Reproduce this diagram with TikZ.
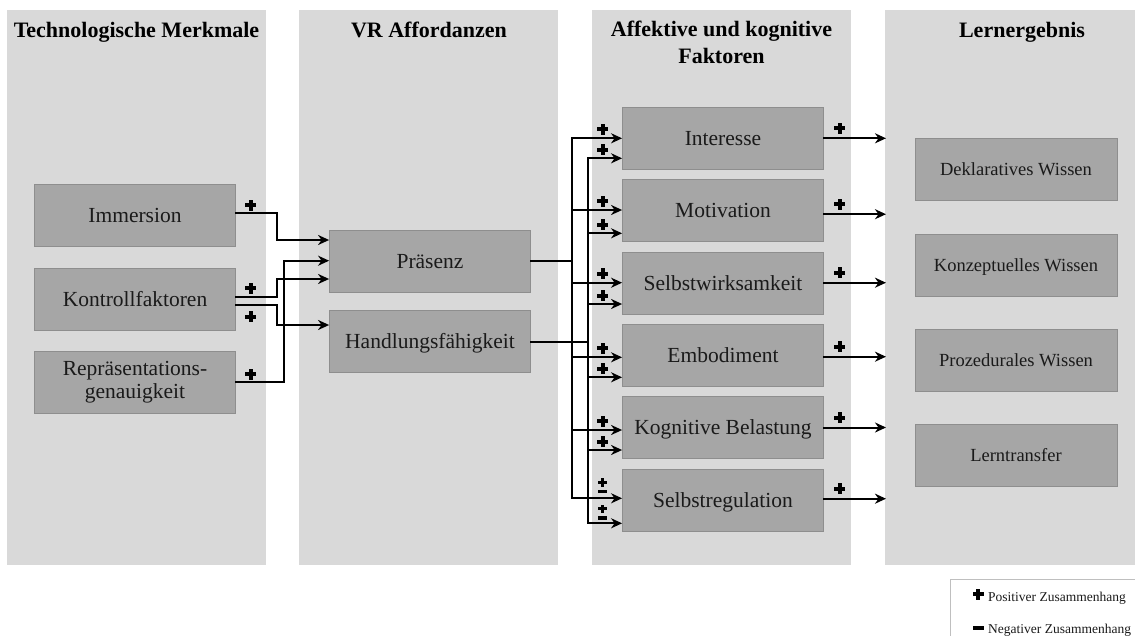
\documentclass[tikz,border=0pt]{standalone}
\usepackage{fontspec}
\setmainfont{Liberation Serif}
\usetikzlibrary{arrows.meta}
\definecolor{colbg}{HTML}{D9D9D9}
\definecolor{boxfill}{HTML}{A6A6A6}
\definecolor{boxline}{HTML}{8E8E8E}
\definecolor{ink}{HTML}{1A1A1A}
\definecolor{legline}{HTML}{BFBFBF}

\begin{document}
\begin{tikzpicture}[x=1pt,y=-1pt,
  panel/.style={fill=colbg,draw=none},
  head/.style={font=\bfseries\fontsize{22}{27}\selectfont,text=black,inner sep=0pt},
  box/.style={draw=boxline,line width=0.8pt,fill=boxfill,minimum width=201pt,
    minimum height=62pt,inner sep=0pt,align=center,text=ink,
    font=\fontsize{21.5}{23}\selectfont},
  oneline/.style={text height=14.2pt,text depth=0pt},
  outbox/.style={box,oneline,minimum width=202pt,text height=12.2pt,
    font=\fontsize{18.5}{21}\selectfont},
  legtext/.style={font=\fontsize{13.5}{16}\selectfont,text=ink,inner sep=0pt,anchor=base west},
  wire/.style={line width=2pt,black,line cap=rect},
  arr/.style={wire,-{Stealth[length=11pt,width=10pt,inset=3.5pt]}},
  pics/pos/.style={code={
    \fill[black] (-5.5,-2) rectangle (5.5,2);
    \fill[black] (-2,-5.5) rectangle (2,5.5);}},
  pics/neg/.style={code={\fill[black] (-5.5,-2) rectangle (5.5,2);}},
  pics/posneg/.style={code={
    \fill[black] (-4.3,-10.6) rectangle (4.3,-7.4);
    \fill[black] (-1.6,-13.3) rectangle (1.6,-4.7);
    \fill[black] (-4.3,-1.8) rectangle (4.3,1.8);}},
]
\useasboundingbox (0,0) rectangle (1135,635);
\fill[white] (0,0) rectangle (1135,635);

% column panels
\fill[panel] (7,10) rectangle (266,565);
\fill[panel] (299,10) rectangle (558,565);
\fill[panel] (592,10) rectangle (851,565);
\fill[panel] (885,10) rectangle (1140,565);

% column headings
\node[head,anchor=base] (h1) at (136.5,37) {Technologische Merkmale};
\node[head,anchor=base] (h2) at (429,37) {VR Affordanzen};
\node[head,anchor=north,align=center] (h3) at (721.5,21) {Affektive und kognitive\\Faktoren};
\node[head,anchor=base] (h4) at (1022,37) {Lernergebnis};

% technological features
\node[box,oneline] (imm) at (135,215.5) {Immersion};
\node[box,oneline] (kon) at (135,299.3) {Kontrollfaktoren};
\node[box] (rep) at (135,382.3) {Repräsentations-\\genauigkeit};

% affordances
\node[box,oneline] (pra) at (430,261) {Präsenz};
\node[box,oneline] (han) at (430,341.5) {Handlungsfähigkeit};

% affective and cognitive factors
\node[box,oneline] (int) at (723,138.7) {Interesse};
\node[box,oneline] (mot) at (723,210.7) {Motivation};
\node[box,oneline] (swk) at (723,283) {Selbstwirksamkeit};
\node[box,oneline] (emb) at (723,355.2) {Embodiment};
\node[box,oneline] (kog) at (723,427.5) {Kognitive Belastung};
\node[box,oneline] (sre) at (723,500) {Selbstregulation};

% learning outcomes
\node[outbox] (dek) at (1016,169.7) {Deklaratives Wissen};
\node[outbox] (kzw) at (1016,265) {Konzeptuelles Wissen};
\node[outbox] (pzw) at (1016,360) {Prozedurales Wissen};
\node[outbox] (ltr) at (1016,455) {Lerntransfer};

% routing helpers
\coordinate (bendA) at (276.7,0);
\coordinate (bendB) at (283.5,0);
\coordinate (trunkA) at (572.3,0);
\coordinate (trunkB) at (587.7,0);
\coordinate (outX) at (886,0);

\coordinate (imm-o) at ([yshift=2.2pt]imm.east);
\coordinate (kon-o1) at ([yshift=2pt]kon.east);
\coordinate (kon-o2) at ([yshift=-5.7pt]kon.east);
\coordinate (rep-o) at (rep.east);
\coordinate (pra-i1) at ([yshift=21pt]pra.west);
\coordinate (pra-i2) at ([yshift=0.3pt]pra.west);
\coordinate (pra-i3) at ([yshift=-18pt]pra.west);
\coordinate (han-i) at ([yshift=16.5pt]han.west);

% features -> affordances
\draw[arr] (imm-o) -- (imm-o -| bendA) |- (pra-i1);
\draw[arr] (kon-o1) -- (kon-o1 -| bendA) |- (pra-i3);
\draw[arr] (kon-o2) -- (kon-o2 -| bendA) |- (han-i);
\draw[arr] (rep-o) -- (rep-o -| bendB) |- (pra-i2);
\pic at ([xshift=14.7pt,yshift=8.3pt]imm-o) {pos};
\pic at ([xshift=14.7pt,yshift=9pt]kon-o1) {pos};
\pic at ([xshift=14.7pt,yshift=-11.7pt]kon-o2) {pos};
\pic at ([xshift=14.7pt,yshift=8pt]rep-o) {pos};

% affordances -> factors
\foreach \n/\sa/\sb in {int/0.4/-19.6, mot/0.7/-22.6, swk/0.3/-21,
                        emb/-2.1/-22.1, kog/-2.5/-22.5, sre/1.7/-23.3} {
  \coordinate (\n-a) at ([yshift=\sa pt]\n.west);
  \coordinate (\n-b) at ([yshift=\sb pt]\n.west);
  \draw[arr] (trunkA |- \n-a) -- (\n-a);
  \draw[arr] (trunkB |- \n-b) -- (\n-b);
}
\draw[wire] (pra.east) -- (pra.east -| trunkA);
\draw[wire] (han.east) -- (han.east -| trunkB);
\draw[wire] (trunkA |- int-a) -- (trunkA |- sre-a);
\draw[wire] (trunkB |- int-b) -- (trunkB |- sre-b);

\foreach \n in {int,mot,swk,emb,kog} {
  \pic at ([xshift=-19.5pt,yshift=9pt]\n-a) {pos};
  \pic at ([xshift=-19.5pt,yshift=8.5pt]\n-b) {pos};
}
\pic at ([xshift=-19.5pt,yshift=7pt]sre-a) {posneg};
\pic at ([xshift=-19.5pt,yshift=5.5pt]sre-b) {posneg};

% factors -> outcomes
\foreach \n/\s in {int/0.4, mot/-3.5, swk/0.3, emb/-1.5, kog/0, sre/1.3} {
  \coordinate (\n-o) at ([yshift=\s pt]\n.east);
  \draw[arr] (\n-o) -- (\n-o -| outX);
  \pic at ([xshift=16pt,yshift=10pt]\n-o) {pos};
}

% legend
\draw[legline,line width=0.8pt] (950.7,640) |- (1140,579.5);
\pic at (978,594) {pos};
\node[legtext] (lpos) at (988,601.7) {Positiver Zusammenhang};
\pic at (978,628.3) {neg};
\node[legtext] (lneg) at (988,633.3) {Negativer Zusammenhang};
\end{tikzpicture}
\end{document}
